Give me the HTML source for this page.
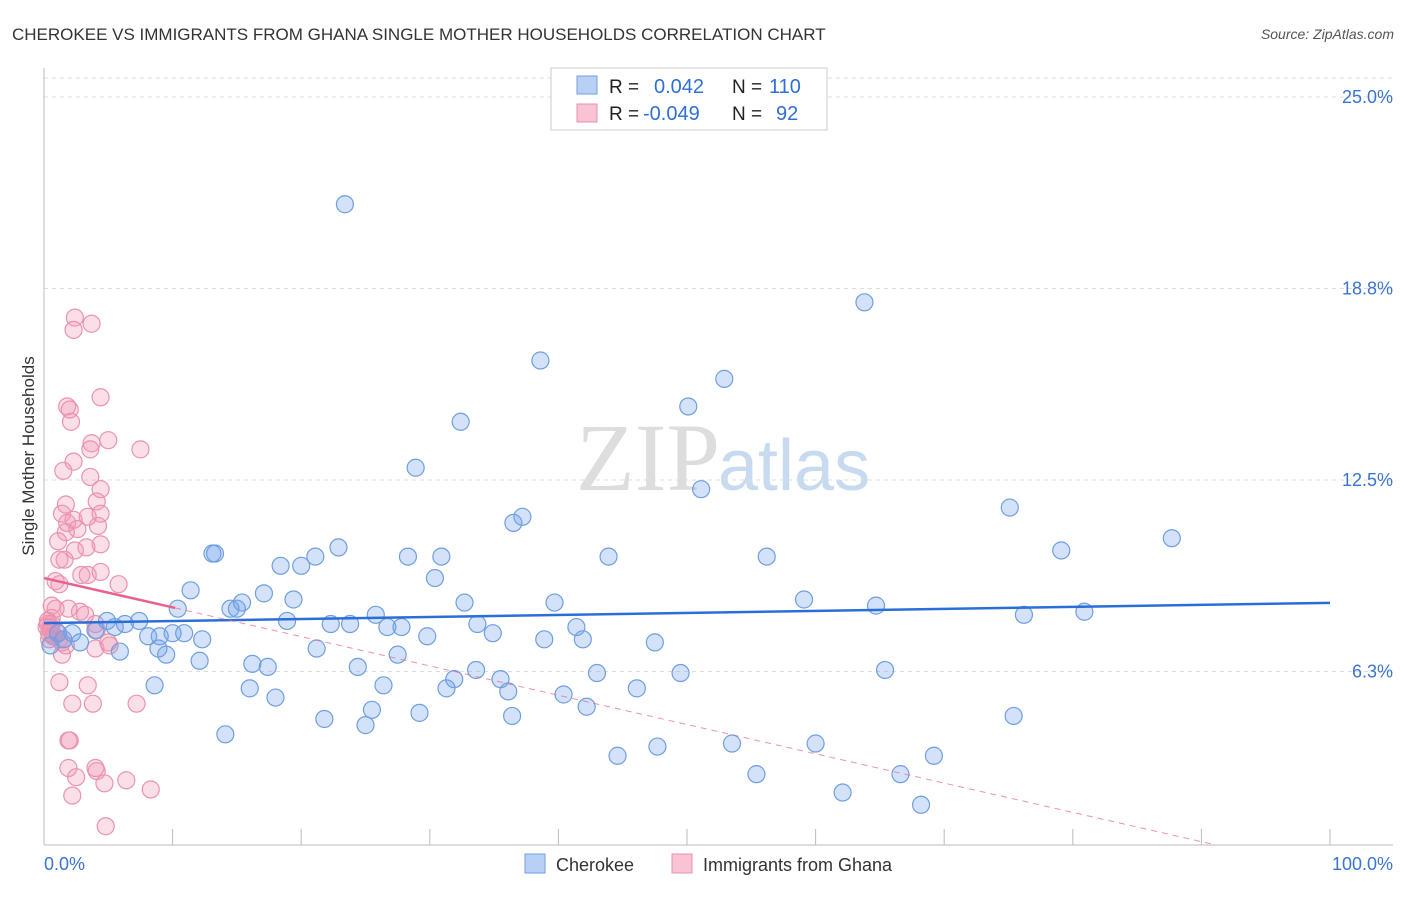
<!DOCTYPE html>
<html><head><meta charset="utf-8"><style>
body{margin:0;background:#fff;font-family:"Liberation Sans",sans-serif}
svg text{font-family:"Liberation Sans",sans-serif}
</style></head><body>
<svg id="chart" width="1406" height="892" xmlns="http://www.w3.org/2000/svg">
<text x="12" y="40" font-size="17" fill="#333">CHEROKEE VS IMMIGRANTS FROM GHANA SINGLE MOTHER HOUSEHOLDS CORRELATION CHART</text>
<text x="1394" y="39" font-size="14" fill="#555" font-style="italic" text-anchor="end">Source: ZipAtlas.com</text>
<text x="720" y="490" font-size="96" fill="#ddd" text-anchor="end" font-family="Liberation Serif" style="font-family:'Liberation Serif',serif">ZIP</text>
<text x="718" y="490" font-size="72" fill="#c8daf0">atlas</text>
<g id="grid"></g><g id="axes"></g><g id="pts"></g><g id="lines"></g>
<text transform="translate(34,456) rotate(-90)" font-size="17" fill="#333" text-anchor="middle">Single Mother Households</text>
<g>
<rect x="551" y="68" width="276" height="62" fill="#fff" stroke="#ccc"/>
<rect x="577" y="76" width="20" height="18" fill="#b8d0f4" stroke="#6f9fe0"/>
<rect x="577" y="104" width="20" height="18" fill="#f8c4d4" stroke="#e890aa"/>
<text x="609" y="93" font-size="19" fill="#222">R = </text><text x="654" y="93" font-size="20" fill="#2f6fd6">0.042</text>
<text x="732" y="93" font-size="19" fill="#222">N = </text><text x="769" y="93" font-size="20" fill="#2f6fd6">110</text>
<text x="609" y="120" font-size="19" fill="#222">R = </text><text x="643" y="120" font-size="20" fill="#2f6fd6">-0.049</text>
<text x="732" y="120" font-size="19" fill="#222">N = </text><text x="776" y="120" font-size="20" fill="#2f6fd6">92</text>
</g>
<g>
<rect x="525" y="854" width="20" height="19" fill="#b8d0f4" stroke="#6f9fe0"/>
<text x="556" y="871" font-size="18" fill="#333">Cherokee</text>
<rect x="672" y="854" width="20" height="19" fill="#f8c4d4" stroke="#e890aa"/>
<text x="703" y="871" font-size="18" fill="#333">Immigrants from Ghana</text>
</g>
</svg>
<script>
const yTicks=[6.25,12.5,18.75,25];
const yTickLabels=["6.3%","12.5%","18.8%","25.0%"];
const xTickLabels=["0.0%","100.0%"];
const blueX=[23.4,63.8,38.6,52.9,32.4,50.1,28.9,51.1,36.5,37.2,75.1,87.7,79.1,13.1,13.3,22.9,21.1,18.4,20.0,28.3,30.9,43.9,56.2,11.4,17.1,19.4,15.4,30.4,32.7,39.7,59.1,64.7,76.2,80.9,10.4,14.5,15.0,25.8,18.9,23.8,22.3,26.7,27.8,33.7,41.4,7.4,6.3,4.9,4.0,5.5,9.0,8.1,10.0,10.9,12.3,1.1,2.2,1.5,0.5,2.8,29.8,34.9,38.9,41.9,47.5,21.2,8.9,9.5,5.9,12.1,27.5,16.2,17.4,24.4,33.6,43.0,49.5,65.4,31.9,35.5,8.6,16.0,26.4,31.3,36.1,46.1,40.4,18.0,42.2,25.5,21.8,29.2,36.4,75.4,25.0,14.1,47.7,53.5,60.0,44.6,55.4,66.6,69.2,62.1,68.2,48.1];
const blueY=[21.5,18.3,16.4,15.8,14.4,14.9,12.9,12.2,11.1,11.3,11.6,10.6,10.2,10.1,10.1,10.3,10.0,9.7,9.7,10.0,10.0,10.0,10.0,8.9,8.8,8.6,8.5,9.3,8.5,8.5,8.6,8.4,8.1,8.2,8.3,8.3,8.3,8.1,7.9,7.8,7.8,7.7,7.7,7.8,7.7,7.9,7.8,7.9,7.6,7.7,7.4,7.4,7.5,7.5,7.3,7.5,7.5,7.3,7.1,7.2,7.4,7.5,7.3,7.3,7.2,7.0,7.0,6.8,6.9,6.6,6.8,6.5,6.4,6.4,6.3,6.2,6.2,6.3,6.0,6.0,5.8,5.7,5.8,5.7,5.6,5.7,5.5,5.4,5.1,5.0,4.7,4.9,4.8,4.8,4.5,4.2,3.8,3.9,3.9,3.5,2.9,2.9,3.5,2.3,1.9,25.6];
const pinkX=[2.4,3.7,2.3,4.4,1.8,2.0,2.1,3.7,3.6,5.0,7.5,2.3,1.5,3.6,4.4,1.7,4.1,1.4,1.8,3.4,4.4,4.2,2.6,2.3,1.7,1.1,1.2,3.3,2.4,4.4,1.6,0.9,1.2,2.9,3.4,4.4,5.8,0.6,0.9,1.9,2.8,3.2,0.6,0.3,0.5,0.9,0.7,1.2,1.4,1.7,0.4,4.1,4.0,5.0,5.1,4.0,1.4,1.2,3.4,2.2,3.8,7.2,1.9,2.0,4.0,4.1,1.9,2.5,4.7,6.4,2.2,4.8,8.3,0.3,0.5,0.4,0.6,0.2,0.8];
const pinkY=[17.8,17.6,17.4,15.2,14.9,14.8,14.4,13.7,13.5,13.8,13.5,13.1,12.8,12.6,12.2,11.7,11.8,11.4,11.1,11.3,11.4,11.0,10.9,11.2,10.8,10.5,9.9,10.3,10.2,10.4,9.9,9.2,9.1,9.4,9.4,9.5,9.1,8.4,8.3,8.3,8.2,8.1,8.0,7.8,7.7,7.6,7.4,7.3,7.2,7.1,7.3,7.6,7.0,7.2,7.1,7.8,6.8,5.9,5.8,5.2,5.2,5.2,4.0,4.0,3.1,3.0,3.1,2.8,2.6,2.7,2.2,1.2,2.4,7.9,7.6,7.5,7.8,7.7,7.4];
const blueTrend=[7.83,0.0066];
const pinkTrend=[9.30,-0.0956];
const NS="http://www.w3.org/2000/svg";
const X0=44,X1=1330,Y0=863,PPY=30.64;
const sx=v=>X0+(X1-X0)*v/100, sy=v=>Y0-v*PPY;
function mk(tag,attrs,parent){const e=document.createElementNS(NS,tag);for(const k in attrs)e.setAttribute(k,attrs[k]);document.getElementById(parent).appendChild(e);return e;}
yTicks.forEach((t,i)=>{
 const l=mk('line',{x1:44,x2:1393,y1:sy(t),y2:sy(t),stroke:'#ddd','stroke-dasharray':'4,4'},'grid');
 
 
 const tx=mk('text',{x:1393,y:sy(t)+6,'font-size':18,fill:'#3b73d0','text-anchor':'end'},'grid');
 tx.textContent=yTickLabels[i];
 
 
});
const topL=mk('line',{x1:44,x2:1393,y1:78,y2:78,stroke:'#ddd','stroke-dasharray':'4,4'},'grid');


const ya=mk('line',{x1:44,x2:44,y1:68,y2:845,stroke:'#bbb'},'axes');


const xa=mk('line',{x1:44,x2:1393,y1:845,y2:845,stroke:'#bbb'},'axes');


for(let i=1;i<=10;i++){const t=mk('line',{x1:sx(i*10),x2:sx(i*10),y1:829,y2:845,stroke:'#bbb'},'axes');
 
 }
[[0,'start',44],[100,'end',1393]].forEach((d,i)=>{const t=mk('text',{x:d[2],y:870,'font-size':18,fill:'#3b73d0','text-anchor':d[1]},'axes');t.textContent=xTickLabels[i];
 
 });
pinkX.forEach((x,i)=>{const c=mk('circle',{cx:sx(x),cy:sy(pinkY[i]),r:8.5,fill:'rgba(242,150,180,0.3)',stroke:'#ea93ae','stroke-width':1.2},'pts');
 
 });
blueX.forEach((x,i)=>{const c=mk('circle',{cx:sx(x),cy:sy(blueY[i]),r:8.5,fill:'rgba(110,160,235,0.3)',stroke:'#6f9fe0','stroke-width':1.2},'pts');
 
 });
const bl=mk('line',{x1:sx(0),y1:sy(blueTrend[0]),x2:sx(100),y2:sy(blueTrend[0]+100*blueTrend[1]),stroke:'#2a6fd8','stroke-width':2.5},'lines');


const pl=mk('line',{x1:sx(0),y1:sy(pinkTrend[0]),x2:sx(10.2),y2:sy(pinkTrend[0]+10.2*pinkTrend[1]),stroke:'#e8628e','stroke-width':2.5},'lines');


const pd=mk('line',{x1:sx(10.2),y1:sy(pinkTrend[0]+10.2*pinkTrend[1]),x2:sx(91.1),y2:sy(pinkTrend[0]+91.1*pinkTrend[1]),stroke:'#e8628e','stroke-width':1,'stroke-dasharray':'6,5',opacity:0.7},'lines');


</script>
</body></html>
